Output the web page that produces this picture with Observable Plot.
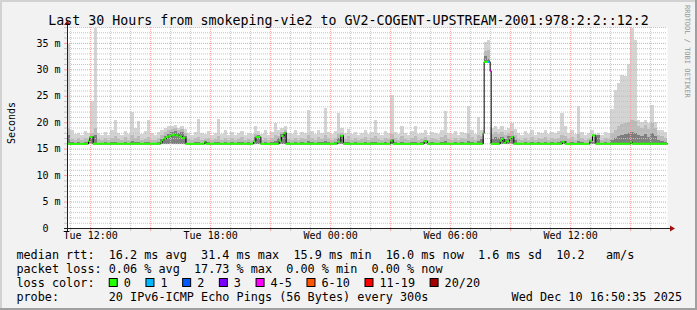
<!DOCTYPE html>
<html><head><meta charset="utf-8">
<script src="https://cdn.jsdelivr.net/npm/d3@7"></script>
<script src="https://cdn.jsdelivr.net/npm/@observablehq/plot@0.6"></script>
<style>
html,body{margin:0;padding:0;background:#f2f2f2;}
#chart svg{display:block;}
</style></head><body><div id="chart"></div>
<script>
// ---------- DATA ----------
const START = Date.UTC(2025, 11, 9, 10, 50, 35);   // Tue Dec 9 10:50:35
const END   = Date.UTC(2025, 11, 10, 16, 50, 35);  // Wed Dec 10 16:50:35
const BIN_MIN = 10; // smoke bins, minutes

// smoke: top of lightest band (max ping), ms
const smokeHi = [
 34.7,18.5,17.8,18.0,17.6,18.3,18.0,24.0,37.8,18.0,
 17.5,18.2,17.6,18.5,20.5,18.0,17.5,18.3,17.8,22.0,
 19.0,20.2,17.8,18.4,20.5,18.0,17.6,18.2,18.5,19.0,
 19.2,19.3,19.5,19.0,19.2,18.8,18.0,17.6,18.2,20.7,
 18.0,17.8,18.3,17.6,18.0,20.7,17.8,18.5,17.5,18.2,
 17.6,18.0,18.4,17.6,18.0,17.8,19.2,18.3,17.8,18.5,
 17.6,18.2,19.9,18.5,19.0,19.3,18.0,17.8,18.5,17.6,
 18.2,18.0,22.4,18.3,17.8,18.6,18.0,22.7,18.2,17.7,
 18.4,21.8,19.0,18.0,18.8,17.8,18.2,17.6,18.0,18.5,
 17.7,18.2,20.5,18.0,17.6,18.4,18.0,25.2,18.2,17.8,
 19.2,18.0,17.6,18.3,19.2,17.8,18.0,18.5,17.6,18.2,
 18.0,17.7,18.6,22.1,18.0,17.8,18.4,17.6,18.2,18.0,
 23.0,18.5,17.8,21.0,18.5,35.1,35.5,19.0,19.2,18.8,
 19.2,18.5,19.0,19.9,18.8,18.0,17.6,18.3,17.8,18.5,
 17.6,18.2,18.0,18.6,17.7,18.2,18.0,18.4,21.7,19.2,
 18.0,18.5,17.8,23.0,18.2,17.6,18.0,18.5,17.8,18.0,
 17.6,18.2,18.0,22.5,26.0,27.4,29.0,28.8,31.0,37.8,
 35.6,20.5,20.0,20.5,19.8,23.3,20.0,18.6,18.5,18.2
];
// smoke: top of medium band, ms
const smokeMid = [
 19.0,16.9,16.6,17.0,16.7,17.1,16.8,18.0,19.0,16.8,
 16.6,17.0,16.7,17.1,17.3,16.8,16.6,17.2,16.7,17.6,
 17.0,17.3,16.7,16.9,17.2,16.7,16.6,17.0,17.6,18.2,
 18.5,18.7,18.9,18.6,18.7,18.0,16.8,16.6,17.0,17.2,
 16.7,16.8,17.1,16.6,16.9,17.3,16.7,17.1,16.6,17.0,
 16.7,16.9,17.2,16.6,16.9,16.7,17.8,17.4,16.7,17.1,
 16.7,17.0,17.5,17.4,18.2,18.5,16.9,16.7,17.1,16.6,
 17.0,16.8,17.5,17.1,16.7,17.2,16.8,17.6,17.0,16.7,
 17.1,17.8,18.0,16.9,17.3,16.7,17.0,16.6,16.8,17.2,
 16.7,17.0,17.4,16.8,16.6,17.1,16.8,17.7,17.0,16.7,
 17.3,16.8,16.6,17.0,17.3,16.7,16.9,17.2,16.6,17.0,
 16.8,16.7,17.2,17.6,16.8,16.7,17.1,16.6,17.0,16.8,
 17.7,17.2,16.7,17.5,17.3,33.4,33.6,17.8,18.2,17.8,
 18.1,17.6,18.0,18.3,17.5,16.8,16.6,17.0,16.7,17.2,
 16.6,17.0,16.8,17.2,16.7,17.0,16.8,17.1,17.5,17.3,
 16.8,17.2,16.7,17.7,17.0,16.6,16.8,17.2,17.6,17.2,
 16.7,17.0,16.9,18.0,18.6,19.2,19.6,19.8,20.0,20.5,
 20.2,19.2,19.0,19.4,18.8,19.8,19.0,17.5,17.3,17.1
];
// smoke: top of dark band (pings closest to median), ms
const smokeDark = [
 17.5,16.2,16.1,16.3,16.1,16.3,16.2,17.3,17.5,16.1,
 16.1,16.2,16.1,16.3,16.3,16.1,16.1,16.2,16.1,16.5,
 16.2,16.3,16.1,16.2,16.2,16.1,16.1,16.2,16.8,17.4,
 17.8,18.1,18.3,18.0,18.1,17.4,16.1,16.1,16.2,16.2,
 16.1,16.3,16.2,16.1,16.2,16.3,16.1,16.2,16.1,16.2,
 16.1,16.2,16.2,16.1,16.2,16.1,17.2,17.6,16.1,16.2,
 16.1,16.2,16.5,17.0,17.8,18.2,16.2,16.1,16.2,16.1,
 16.2,16.1,16.4,16.2,16.1,16.2,16.2,16.4,16.2,16.1,
 16.2,17.0,17.6,16.2,16.3,16.1,16.2,16.1,16.1,16.2,
 16.1,16.2,16.3,16.1,16.1,16.2,16.1,16.9,16.2,16.1,
 16.3,16.1,16.1,16.2,16.3,16.1,16.2,16.7,16.1,16.2,
 16.1,16.1,16.2,16.4,16.1,16.1,16.2,16.1,16.2,16.1,
 16.4,16.2,16.1,16.5,16.8,32.5,32.0,16.8,17.2,17.0,
 17.2,16.8,17.4,17.3,16.6,16.1,16.1,16.2,16.1,16.2,
 16.1,16.2,16.1,16.2,16.1,16.2,16.1,16.2,16.5,16.4,
 16.1,16.2,16.1,16.5,16.2,16.1,16.1,16.2,17.2,17.6,
 16.1,16.2,16.1,16.6,17.0,17.4,17.6,17.8,18.0,18.2,
 18.0,17.6,17.4,17.8,17.2,18.0,17.4,16.6,16.5,16.3
];
const SMOKE_FLOOR = 15.9;            // lowest ping, ms
const smokeLoBins = [125, 126];      // bins whose lowest ping is far above the floor
const smokeLoVals = [31.4, 31.3];

// median rtt: change points (minutes after start), value (ms), loss class
const medTime  = [0,63,67,77,280,285,290,297,305,312,325,335,345,355,412,416,558,565,580,635,642,650,656,810,820,828,970,977,1070,1080,1247,1250,1263,1268,1271,1298,1305,1310,1318,1326,1332,1339,1485,1493,1567,1575,1585,1690,1695];
const medValue = [16.0,16.6,17.3,16.0,16.3,16.7,17.0,17.3,17.5,17.7,17.6,17.4,17.1,16.0,16.4,16.0,16.5,17.3,16.0,16.6,17.5,18.0,16.0,16.4,17.5,16.0,16.6,16.0,16.5,16.0,18.0,31.5,31.5,29.8,16.0,16.6,16.9,16.2,16.5,17.0,17.3,16.0,16.4,16.0,16.6,17.6,16.0,16.3,16.0];
const medLoss  = [0,0,0,0,0,0,0,0,0,0,0,0,0,0,0,0,0,0,0,0,0,0,0,0,0,0,0,0,0,0,0,0,1,4,0,0,0,0,0,0,0,0,0,0,0,0,0,0,0];

const lossColors = ["#26ff00","#00b8ff","#0059ff","#7e00ff","#ff00ff","#ff5500","#ff0000","#a10000"];
const lossLabels = ["0","1","2","3","4-5","6-10","11-19","20/20"];

const yLabelTicks = [0,5,10,15,20,25,30,35];
const xLabelTicks = [Date.UTC(2025,11,9,12), Date.UTC(2025,11,9,18), Date.UTC(2025,11,10,0), Date.UTC(2025,11,10,6), Date.UTC(2025,11,10,12)];
const xLabelText  = ["Tue 12:00","Tue 18:00","Wed 00:00","Wed 06:00","Wed 12:00"];

const titleText = "Last 30 Hours from smokeping-vie2 to GV2-COGENT-UPSTREAM-2001:978:2:2::12:2";
const legendRtt  = "median rtt:  16.2 ms avg  31.4 ms max  15.9 ms min  16.0 ms now  1.6 ms sd  10.2   am/s";
const legendLoss = "packet loss: 0.06 % avg  17.73 % max  0.00 % min  0.00 % now";
const legendProbe = "20 IPv6-ICMP Echo Pings (56 Bytes) every 300s";
const legendDate = "Wed Dec 10 16:50:35 2025";

// ---------- BUILD ----------
const MIN = 60000;
const bins = smokeHi.map((hi, i) => {
  const k = smokeLoBins.indexOf(i);
  return {t0: new Date(START + i*BIN_MIN*MIN), t1: new Date(START + (i+1)*BIN_MIN*MIN),
          lo: k >= 0 ? smokeLoVals[k] : SMOKE_FLOOR, hi, mid: smokeMid[i], dark: smokeDark[i]};
});
const segs = medTime.map((m, i) => ({
  t0: new Date(START + m*MIN),
  t1: new Date(i < medTime.length-1 ? START + medTime[i+1]*MIN : END),
  v: medValue[i], loss: medLoss[i]
}));
const medPts = segs.map(s => ({t: s.t0, v: s.v})).concat([{t: new Date(END), v: medValue[medValue.length-1]}]);

const hours = d3.utcHour.range(new Date(START), new Date(END));
const hMinor = hours.filter(d => d.getUTCHours() % 3 !== 0);
const hMajor = hours.filter(d => d.getUTCHours() % 3 === 0);
const yMinor = d3.range(1, 39).filter(v => v % 5 !== 0);
const yMajor = d3.range(5, 39, 5);

const MINOR = "#c4c4c4", MAJOR = "#ff9a9a";
const mono = "DejaVu Sans Mono";

const plot = Plot.plot({
  width: 697, height: 310,
  marginLeft: 67, marginRight: 30, marginTop: 27, marginBottom: 82,
  style: {background: "transparent", overflow: "visible"},
  x: {type: "utc", domain: [new Date(START), new Date(END)], axis: null},
  y: {domain: [0, 38], axis: null},
  marks: [
    Plot.frame({fill: "white", stroke: "none"}),
    // smoke
    Plot.rect(bins, {x1: "t0", x2: "t1", y1: "lo", y2: "hi", fill: "#d4d4d4", shapeRendering: "crispEdges", clip: true}),
    Plot.rect(bins, {x1: "t0", x2: "t1", y1: "lo", y2: "mid", fill: "#bababa", shapeRendering: "crispEdges", clip: true}),
    Plot.rect(bins, {x1: "t0", x2: "t1", y1: "lo", y2: "dark", fill: "#7e7e7e", shapeRendering: "crispEdges", clip: true}),
    // grid
    Plot.ruleY(yMinor, {stroke: MINOR, strokeDasharray: "1,1"}),
    Plot.ruleX(hMinor, {stroke: MINOR, strokeDasharray: "1,1"}),
    Plot.ruleY(yMajor, {stroke: MAJOR, strokeDasharray: "1,1"}),
    Plot.ruleX(hMajor, {stroke: MAJOR, strokeDasharray: "1,1"}),
    // outside ticks
    Plot.ruleY(yMinor, {stroke: MINOR, insetLeft: -3, insetRight: 600}),
    Plot.ruleY(yMajor, {stroke: MAJOR, insetLeft: -3, insetRight: 600}),
    Plot.ruleX(hMinor, {stroke: MINOR, insetTop: 201, insetBottom: -3}),
    Plot.ruleX(hMajor, {stroke: MAJOR, insetTop: 201, insetBottom: -3}),
    // median
    Plot.line(medPts, {x: "t", y: "v", curve: "step-after", stroke: "#000", strokeWidth: 1}),
    Plot.ruleY(segs, {y: "v", x1: "t0", x2: "t1", stroke: d => lossColors[d.loss], strokeWidth: 2}),
    // axes
    Plot.ruleY([0], {stroke: "#202020", insetLeft: -3, insetRight: -3}),
    Plot.ruleX([new Date(START)], {stroke: "#202020", insetTop: -3, insetBottom: -3}),
    // tick labels
    Plot.text(yLabelTicks, {y: d => d, frameAnchor: "left", dx: -7, textAnchor: "end",
      text: d => d === 0 ? "0\u00a0\u00a0" : d + "\u00a0m", fontFamily: mono, fontSize: 10, fill: "#000"}),
    Plot.text(xLabelTicks, {x: d => new Date(d), frameAnchor: "bottom", dy: 10.8,
      text: (d, i) => xLabelText[i], fontFamily: mono, fontSize: 10, fill: "#000"})
  ]
});
document.getElementById("chart").appendChild(plot);

// ---------- DECORATION (title, legend, frame) ----------
const svg = d3.select(plot);
const sx = plot.scale("x"), sy = plot.scale("y");
const X0 = sx.apply(new Date(START)), X1 = sx.apply(new Date(END)), Y0 = sy.apply(0);

svg.insert("rect", ":first-child").attr("x", 0).attr("y", 0).attr("width", 697).attr("height", 310).attr("fill", "#f2f2f2");
const g = svg.append("g").attr("font-family", mono).attr("fill", "#000").attr("text-anchor", "start").style("white-space", "pre");
// frame shading
g.append("rect").attr("x", 0).attr("y", 0).attr("width", 697).attr("height", 2).attr("fill", "#d2d2d2");
g.append("rect").attr("x", 0).attr("y", 0).attr("width", 2).attr("height", 310).attr("fill", "#d2d2d2");
g.append("rect").attr("x", 0).attr("y", 308).attr("width", 697).attr("height", 2).attr("fill", "#a0a0a0");
g.append("rect").attr("x", 695).attr("y", 0).attr("width", 2).attr("height", 310).attr("fill", "#a0a0a0");
// arrows
g.append("polygon").attr("points", `${X0-3},25 ${X0+3},25 ${X0+0.5},20`).attr("fill", "#a01010");
g.append("polygon").attr("points", `${X1+3},${Y0-2.5} ${X1+3},${Y0+3.5} ${X1+8},${Y0+0.5}`).attr("fill", "#a01010");
// title
g.append("text").attr("x", 348.5).attr("y", 24.5).attr("text-anchor", "middle").attr("font-size", 13.3).text(titleText);
// y axis title
g.append("text").attr("transform", "translate(14.5,123) rotate(-90)").attr("text-anchor", "middle").attr("font-size", 10).text("Seconds");
// watermark
g.append("text").attr("transform", "translate(685,5) rotate(90)").attr("text-anchor", "start").attr("font-size", 7).attr("fill", "#969696").text("RRDTOOL / TOBI OETIKER");
// legend
const FS = 11.8, CW = FS * 0.602, LX = 16.4;
const rows = [259, 273, 287, 301];
const lt = (x, y, s, anchor) => g.append("text").attr("x", x).attr("y", y).attr("font-size", FS).attr("text-anchor", anchor || "start").text(s);
lt(LX, rows[0], legendRtt);
lt(LX, rows[1], legendLoss);
lt(LX, rows[2], "loss color:");
let bx = LX + 13 * CW;
lossLabels.forEach((lab, i) => {
  g.append("rect").attr("x", bx + 0.5).attr("y", rows[2] - 8.5).attr("width", 8).attr("height", 8)
    .attr("fill", lossColors[i]).attr("stroke", "#000").attr("stroke-width", 1);
  const tx = bx + 15;
  lt(tx, rows[2], lab);
  bx = tx + lab.length * CW + 14.6;
});
lt(LX, rows[3], "probe:");
lt(LX + 13 * CW, rows[3], legendProbe);
lt(682, rows[3], legendDate, "end");
</script>
</body></html>
